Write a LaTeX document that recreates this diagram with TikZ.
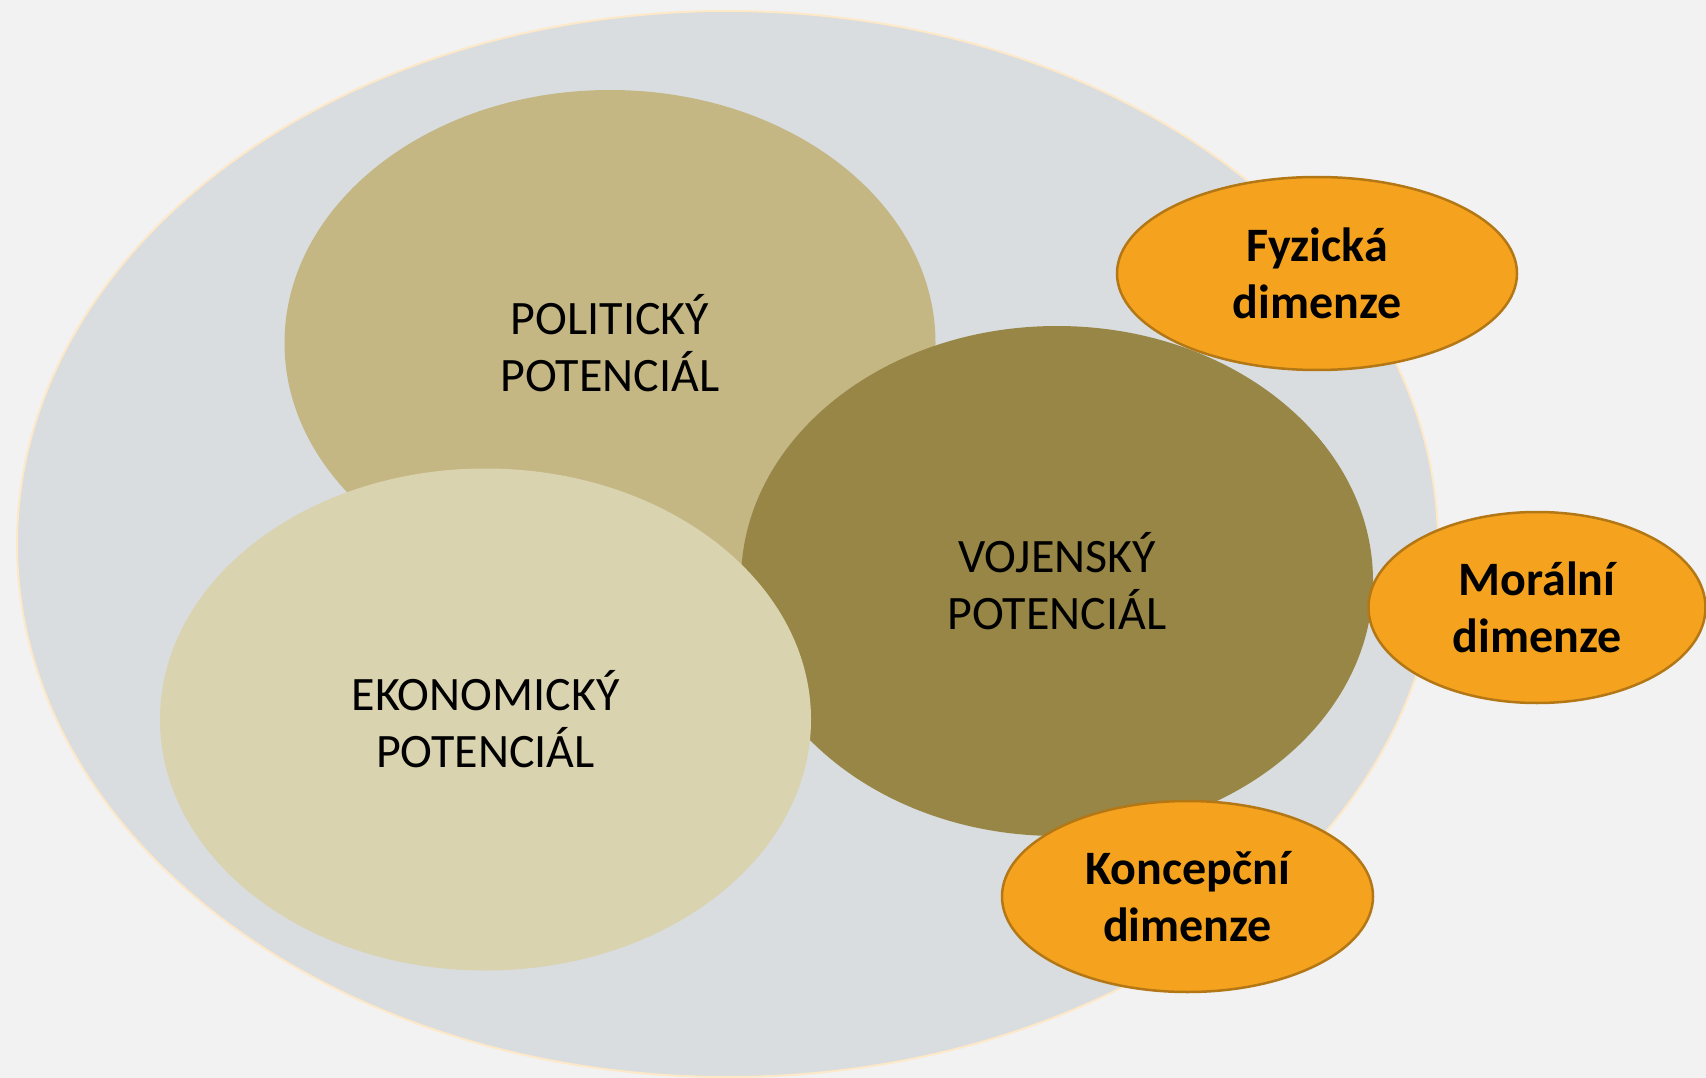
\documentclass[tikz,border=0pt]{standalone}
\usepackage{fontspec}
\setmainfont{Carlito}
\usetikzlibrary{shapes.geometric}
\definecolor{bg}{HTML}{F2F2F2}
\definecolor{outerfill}{HTML}{D9DDE0}
\definecolor{outerline}{HTML}{FDE8C8}
\definecolor{polfill}{HTML}{C4B784}
\definecolor{ekofill}{HTML}{DAD3B0}
\definecolor{vojfill}{HTML}{978645}
\definecolor{orfill}{HTML}{F5A31E}
\definecolor{orline}{HTML}{B47716}
\tikzset{
  potential/.style={ellipse, inner sep=0pt, align=center, text=black,
    font=\fontsize{48}{57}\selectfont},
  dimension/.style={ellipse, inner sep=0pt, align=center, text=black,
    fill=orfill, draw=orline, line width=2.5pt,
    font=\fontsize{48}{57}\selectfont\bfseries},
}
\begin{document}
\begin{tikzpicture}[x=1pt,y=-1pt]
\fill[bg] (0,0) rectangle (1706,1078);
\useasboundingbox (0,0) rectangle (1706,1078);
\node[ellipse, inner sep=0pt, minimum width=1421pt, minimum height=1066pt,
  fill=outerfill, draw=outerline, line width=2pt] (outer) at (727.5,544) {};
\node[potential, fill=polfill, minimum width=651pt, minimum height=506pt] (pol) at (610,343) {POLITICKÝ\\POTENCIÁL};
\node[potential, fill=vojfill, minimum width=632pt, minimum height=510pt] (voj) at (1057,581) {VOJENSKÝ\\POTENCIÁL};
\node[potential, fill=ekofill, minimum width=651pt, minimum height=502pt] (eko) at (485.5,719.5) {EKONOMICKÝ\\POTENCIÁL};
\node[dimension, minimum width=400pt, minimum height=193pt] (fyz) at (1317,273.5) {Fyzická\\dimenze};
\node[dimension, minimum width=337pt, minimum height=191pt] (mor) at (1537,607.5) {Morální\\dimenze};
\node[dimension, minimum width=371pt, minimum height=191pt] (kon) at (1187.5,896.5) {Koncepční\\dimenze};
\end{tikzpicture}
\end{document}
